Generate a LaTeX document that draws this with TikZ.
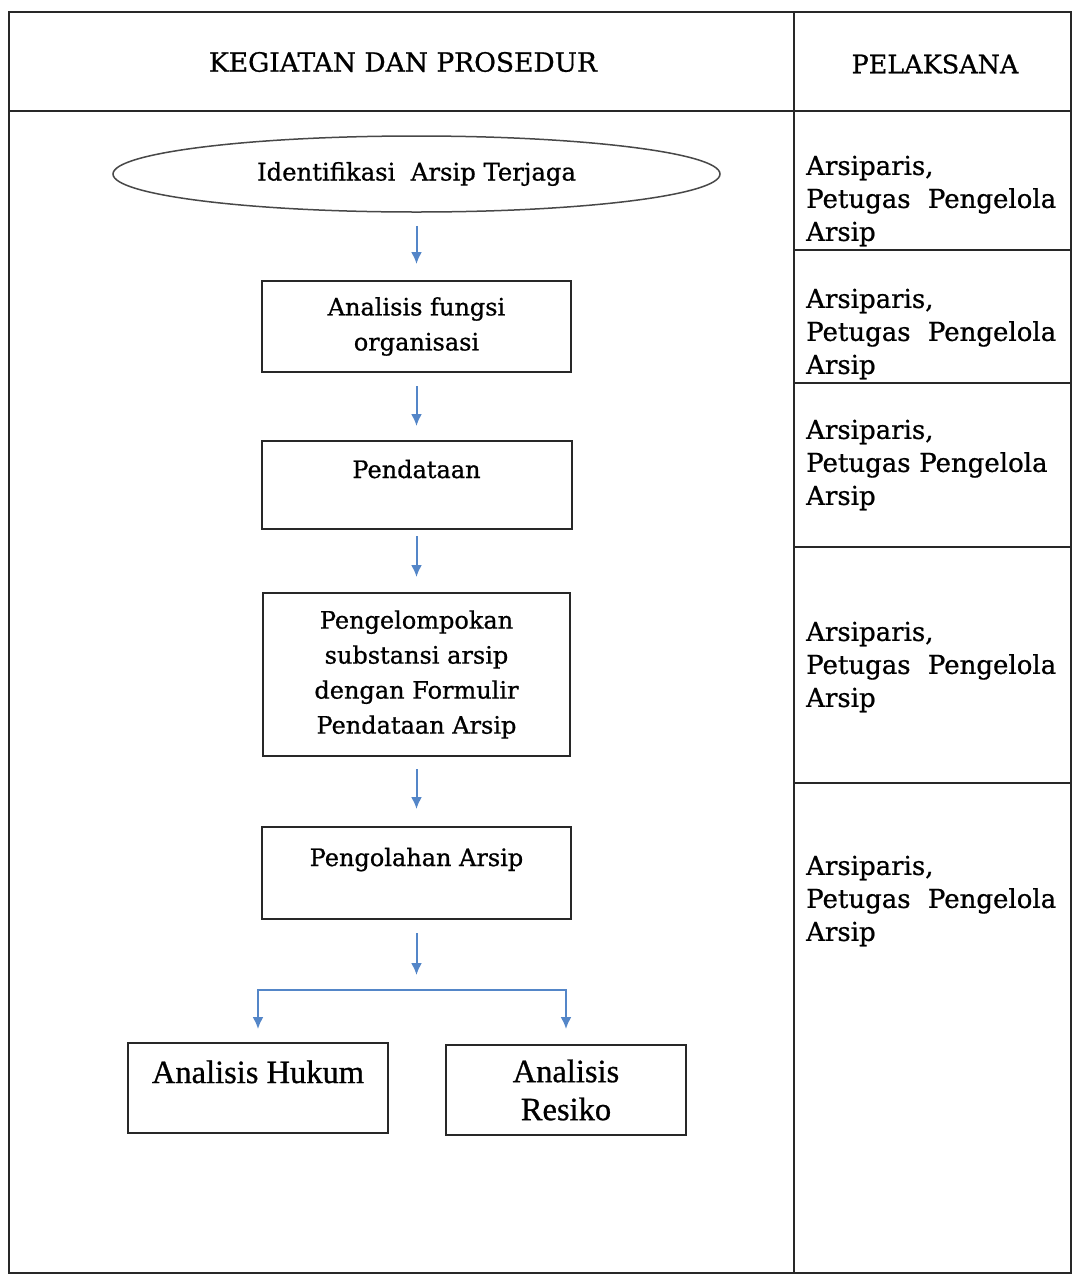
\documentclass[tikz,border=0pt]{standalone}
\usepackage{fontspec}
\setmainfont{DejaVu Serif}[FakeBold=0.8]
\newfontfamily\timesf{Liberation Serif}[FakeBold=0.8]
\usetikzlibrary{shapes.geometric,arrows.meta}
\definecolor{flowblue}{RGB}{84,134,200}
\definecolor{linegray}{RGB}{40,40,40}
\begin{document}
\begin{tikzpicture}[x=1pt,y=-1pt,
  tline/.style={draw=linegray,line width=2.2pt},
  hdr/.style={inner sep=0pt},
  who/.style={anchor=west,text width=250pt,align=left,inner sep=0pt,font=\fontsize{26}{33}\selectfont},
  procbox/.style={draw=linegray,line width=2pt,rectangle,inner sep=0pt,align=center,font=\fontsize{24}{35}\selectfont},
  resbox/.style={procbox,font=\timesf\fontsize{32.5}{38}\selectfont},
  flow/.style={draw=flowblue,line width=2pt,-{Latex[length=12pt,width=11pt]}},
]
\useasboundingbox (0,0) rectangle (1074,1275);
\fill[white] (0,0) rectangle (1074,1275);

% table frame
\coordinate (tl) at (9,12);
\coordinate (tr) at (1071,12);
\coordinate (bl) at (9,1273);
\coordinate (br) at (1071,1273);
\coordinate (dt) at (794,12);
\coordinate (db) at (794,1273);
\coordinate (hl) at (9,111);
\coordinate (hr) at (1071,111);
\draw[tline] (tl) -- (tr) -- (br) -- (bl) -- cycle;
\draw[tline] (dt) -- (db);
\draw[tline] (hl) -- (hr);
\foreach \yy/\nm in {250/r1,383/r2,547/r3,783/r4}{
  \coordinate (\nm a) at (794,\yy);
  \coordinate (\nm b) at (1071,\yy);
  \draw[tline] (\nm a) -- (\nm b);
}

% headers
\node[hdr,font=\fontsize{26.5}{30}\selectfont] (h1) at (403,62) {KEGIATAN DAN PROSEDUR};
\node[hdr,font=\fontsize{25.5}{30}\selectfont] (h2) at (935,64) {PELAKSANA};

% pelaksana column
\node[who] (w1) at (806,201) {Arsiparis,\\ Petugas\hfill Pengelola\\ Arsip};
\node[who] (w2) at (806,334) {Arsiparis,\\ Petugas\hfill Pengelola\\ Arsip};
\node[who] (w3) at (806,465) {Arsiparis,\\ Petugas Pengelola\\ Arsip};
\node[who] (w4) at (806,667) {Arsiparis,\\ Petugas\hfill Pengelola\\ Arsip};
\node[who] (w5) at (806,901) {Arsiparis,\\ Petugas\hfill Pengelola\\ Arsip};

% flow
\node[ellipse,draw=linegray!85,line width=1.5pt,minimum width=607pt,minimum height=76pt,inner sep=0pt,font=\fontsize{24.3}{28}\selectfont] (ell) at (416.5,174) {Identifikasi\ \ Arsip Terjaga};
\node[procbox,minimum width=309pt,minimum height=91pt] (b1) at (416.5,326.5) {Analisis fungsi\\ organisasi};
\node[procbox,minimum width=310pt,minimum height=88pt,text height=17pt,text depth=31pt] (b2) at (416.5,485) {Pendataan};
\node[procbox,minimum width=307pt,minimum height=163pt] (b3) at (416.5,674.5) {Pengelompokan\\ substansi arsip\\ dengan Formulir\\ Pendataan Arsip};
\node[procbox,minimum width=309pt,minimum height=92pt,text height=17pt,text depth=31pt] (b4) at (416.5,873) {Pengolahan Arsip};
\node[resbox,minimum width=260pt,minimum height=90pt,text height=22pt,text depth=32pt] (b5) at (258,1088) {Analisis Hukum};
\node[resbox,minimum width=240pt,minimum height=90pt] (b6) at (566,1090) {Analisis\\ Resiko};
\coordinate (split) at (416.5,990);

\draw[flow,shorten <=13pt,shorten >=16pt] (ell) -- (b1);
\draw[flow,shorten <=13pt,shorten >=14pt] (b1) -- (b2);
\draw[flow,shorten <=6pt,shorten >=15pt] (b2) -- (b3);
\draw[flow,shorten <=12pt,shorten >=17pt] (b3) -- (b4);
\draw[flow,shorten <=13pt,shorten >=15pt] (b4) -- (split);
\draw[flow,shorten >=13pt] (split) -| (b5);
\draw[flow,shorten >=15pt] (split) -| (b6);
\end{tikzpicture}
\end{document}
